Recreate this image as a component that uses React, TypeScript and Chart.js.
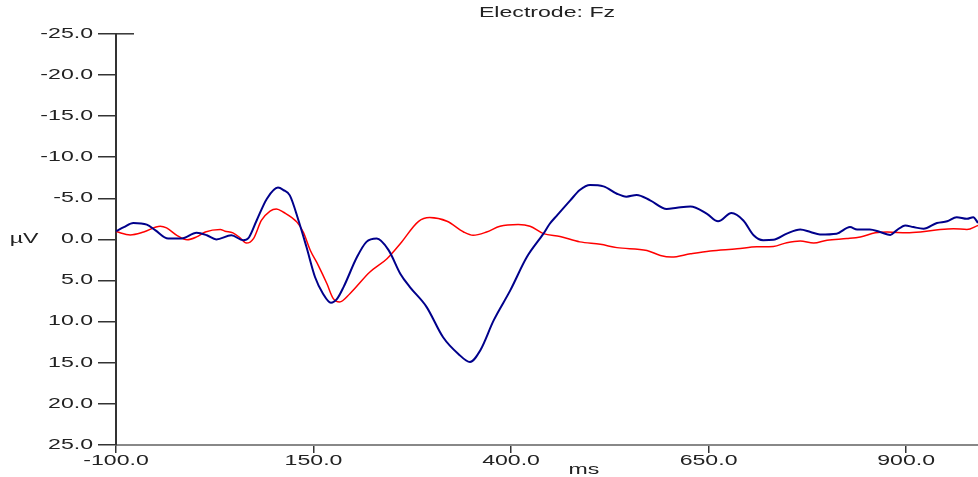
import { useEffect, useRef } from 'react';
import { Chart, registerables } from 'chart.js';

Chart.register(...registerables);

// Grand-average ERP at electrode Fz, two conditions (µV, negative plotted up)
const blueTimes = [
  -100, -90, -78, -61, -50, -34, -17, 2, 15, 27, 46, 61, 68, 78, 91, 105, 112, 120, 131, 141,
  152, 162, 172, 180, 188, 205, 217, 230, 245, 260, 272, 293, 314, 333, 348, 361, 378, 399, 420, 441,
  449, 458, 475, 487, 500, 517, 534, 546, 559, 576, 597, 610, 627, 648, 662, 679, 694, 707, 719, 732,
  749, 766, 779, 791, 812, 829, 838, 854, 867, 880, 888, 899, 909, 922, 939, 952, 964, 977, 985, 991,
];
const blueValues = [
  -1.0, -1.5, -2.0, -1.8, -1.1, -0.1, -0.1, -0.8, -0.5, 0.0, -0.5, 0.1, -0.2, -2.3, -4.95, -6.3, -6.0, -5.35, -2.3, 0.9,
  4.6, 6.6, 7.7, 7.2, 5.8, 2.15, 0.3, -0.1, 1.3, 4.2, 5.8, 8.2, 11.9, 13.9, 14.9, 13.5, 9.85, 6.2, 2.15, -0.7,
  -1.9, -2.9, -4.75, -6.0, -6.6, -6.45, -5.55, -5.2, -5.4, -4.75, -3.7, -3.85, -4.0, -3.1, -2.2, -3.2, -2.3, -0.5, 0.1, 0.05,
  -0.7, -1.2, -0.9, -0.6, -0.7, -1.5, -1.2, -1.2, -0.9, -0.55, -1.1, -1.7, -1.5, -1.3, -2.0, -2.2, -2.7, -2.5, -2.7, -2.0,
];

const redTimes = [
  -100, -82, -65, -44, -36, -23, -10, 2, 13, 32, 38, 48, 57, 65, 74, 84, 95, 103, 112, 129,
  137, 146, 156, 167, 175, 183, 196, 221, 243, 260, 283, 297, 319, 340, 352, 369, 386, 409, 424, 441,
  462, 487, 513, 534, 572, 589, 603, 627, 652, 686, 711, 732, 749, 766, 783, 800, 825, 842, 861, 876,
  901, 918, 943, 960, 977, 991,
];
const redValues = [
  -0.95, -0.55, -0.9, -1.6, -1.4, -0.5, 0.05, -0.3, -0.9, -1.2, -1.0, -0.8, -0.2, 0.45, -0.1, -2.3, -3.45, -3.7, -3.3, -2.1,
  -0.9, 1.35, 3.15, 5.4, 7.2, 7.6, 6.6, 4.0, 2.35, 0.5, -2.2, -2.65, -2.2, -0.9, -0.5, -0.9, -1.6, -1.8, -1.6, -0.7,
  -0.35, 0.3, 0.6, 1.0, 1.35, 1.95, 2.15, 1.75, 1.4, 1.15, 0.9, 0.85, 0.4, 0.2, 0.45, 0.1, -0.1, -0.3, -0.8, -0.9,
  -0.8, -0.9, -1.2, -1.3, -1.2, -1.7,
];

const xTickValues = [-100, 150, 400, 650, 900];
const xRange = [-100, 991];
const yRange = [-25, 25];
const yStep = 5;

const TEXT_STRETCH = 1.65;
const FONT_FAMILY = '"Liberation Sans", Arial, sans-serif';
const TEXT_COLOR = '#222';

export default function App() {
  const canvasRef = useRef<HTMLCanvasElement>(null);

  useEffect(() => {
    const canvas = canvasRef.current!;
    const ctx = canvas.getContext('2d')!;

    // Wide, horizontally stretched lettering for every label on the canvas
    const plainFill = ctx.fillText.bind(ctx);
    (ctx as any).fillText = (text: string, x: number, y: number) => {
      ctx.save();
      ctx.translate(x, y);
      ctx.scale(TEXT_STRETCH, 1);
      plainFill(text, 0, 0);
      ctx.restore();
    };

    const axisNames = {
      id: 'axisNames',
      afterDraw(chart: any) {
        const c = chart.ctx;
        const area = chart.chartArea;
        c.save();
        // long tick at the top of the voltage axis
        c.strokeStyle = '#333';
        c.lineWidth = 1.5;
        c.beginPath();
        c.moveTo(area.left, area.top);
        c.lineTo(area.left + 18, area.top);
        c.stroke();
        c.font = `14px ${FONT_FAMILY}`;
        c.fillStyle = TEXT_COLOR;
        c.textAlign = 'center';
        c.textBaseline = 'middle';
        c.fillText('µV', 24, chart.scales.y.getPixelForValue(0));
        c.fillText('ms', area.left + 468, 470);
        c.restore();
      },
    };

    const tickFont = { family: FONT_FAMILY, size: 14 };

    const chart = new Chart(canvas, {
      type: 'line',
      data: {
        datasets: [
          {
            label: 'Condition 1',
            data: blueTimes.map((t, i) => ({ x: t, y: blueValues[i] })),
            borderColor: '#00008B',
            borderWidth: 2,
            pointRadius: 0,
            cubicInterpolationMode: 'monotone',
            fill: false,
          },
          {
            label: 'Condition 2',
            data: redTimes.map((t, i) => ({ x: t, y: redValues[i] })),
            borderColor: '#FF0000',
            borderWidth: 1.5,
            pointRadius: 0,
            cubicInterpolationMode: 'monotone',
            fill: false,
          },
        ],
      },
      options: {
        animation: false,
        responsive: true,
        maintainAspectRatio: false,
        layout: { padding: 0 },
        plugins: {
          legend: { display: false },
          tooltip: { enabled: false },
          title: {
            display: true,
            text: 'Electrode: Fz',
            fullSize: false,
            color: TEXT_COLOR,
            font: { family: FONT_FAMILY, size: 14, weight: 'normal' },
            padding: { top: 5, bottom: 12 },
          },
        },
        scales: {
          x: {
            type: 'linear',
            min: xRange[0],
            max: xRange[1],
            afterBuildTicks: (scale: any) => {
              scale.ticks = xTickValues.map((v) => ({ value: v }));
            },
            afterFit: (scale: any) => {
              scale.height = 32;
            },
            grid: { drawOnChartArea: false, drawTicks: true, tickLength: 8, color: '#333', lineWidth: 1.5 },
            border: { display: true, color: '#888', width: 2 },
            ticks: {
              callback: (v: any) => Number(v).toFixed(1),
              font: tickFont,
              color: TEXT_COLOR,
              padding: 0,
              maxRotation: 0,
              autoSkip: false,
            },
          },
          y: {
            type: 'linear',
            reverse: true,
            min: yRange[0],
            max: yRange[1],
            afterFit: (scale: any) => {
              scale.width = 116;
            },
            grid: { drawOnChartArea: false, drawTicks: true, tickLength: 18, color: '#333', lineWidth: 1.5 },
            border: { display: true, color: '#333', width: 2 },
            ticks: {
              stepSize: yStep,
              callback: (v: any) => Number(v).toFixed(1),
              font: tickFont,
              color: TEXT_COLOR,
              padding: 5,
            },
          },
        },
      },
      plugins: [axisNames],
    });

    return () => chart.destroy();
  }, []);

  return (
    <div style={{ position: 'absolute', left: 0, top: 0, width: 978, height: 477, background: '#fff' }}>
      <canvas ref={canvasRef} />
    </div>
  );
}
